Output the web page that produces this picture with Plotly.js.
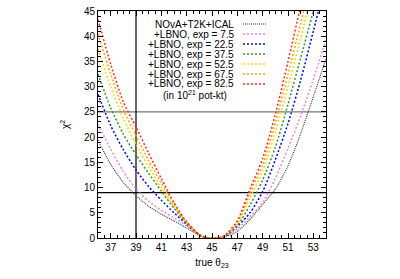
<!DOCTYPE html>
<html>
<head>
<meta charset="utf-8">
<script src="https://cdn.plot.ly/plotly-3.0.1.min.js"></script>
<style>html,body{margin:0;padding:0;background:#fff;}#chart{width:400px;height:279px;}</style>
</head>
<body>
<div id="chart"></div>
<script>
// true theta23 (degrees)
const theta = [36,37,38,39,40,41,42,43,44,44.5,45,45.5,46,47,48,49,50,51,52,53,54];
// chi^2 curves
const chiBase   = [19.4,14.6,11.0,8.4,6.3,4.7,3.4,2.0,0.5,0.1,0,0.03,0.2,1.3,3.7,6.7,9.7,14.3,20.7,28,35.5];
const chiExp7   = [22.5,17.6,13.2,9.7,7.3,5.5,4.0,2.4,0.55,0.1,0,0.03,0.25,1.8,4.2,7.0,11.8,17.8,24.2,31.5,39.3];
const chiExp22  = [28.5,22.3,17.5,13.5,10.2,7.5,5.0,2.7,0.6,0.1,0,0.03,0.3,2.3,5.0,9.2,15.5,22.7,31.3,41,51];
const chiExp37  = [32.5,25.8,20.6,16.5,12.8,9.3,5.9,2.9,0.65,0.1,0,0.03,0.35,2.5,6.5,11.5,18.0,26.5,35.7,45,55];
const chiExp52  = [37.5,30,23.7,18.6,14.1,10.0,6.2,3.0,0.65,0.1,0,0.03,0.4,2.8,8.0,13.3,21.0,30,39.5,50,60];
const chiExp67  = [40.5,32.5,25.5,20.3,15.3,10.9,6.6,3.1,0.7,0.1,0,0.03,0.45,3.1,9.0,14.5,22.8,32.5,42.5,53,63];
const chiExp82  = [43.3,34.5,27,22,16.8,11.8,7.0,3.2,0.7,0.1,0,0.03,0.5,3.4,9.7,15.8,24.5,35,46,57,68];

const seriesNames = ["NOvA+T2K+ICAL","+LBNO, exp = 7.5","+LBNO, exp = 22.5","+LBNO, exp = 37.5","+LBNO, exp = 52.5","+LBNO, exp = 67.5","+LBNO, exp = 82.5"];
const seriesData = [chiBase, chiExp7, chiExp22, chiExp37, chiExp52, chiExp67, chiExp82];
const unitNote = "(in 10<sup>21</sup> pot-kt)";

// reference lines
const refChi2 = [9, 25];
const refTheta = [39];

const xRange = [36, 54];
const yRange = [0, 45];
const xTickVals = [37,39,41,43,45,47,49,51,53];

// styles
const colors = ["#333333","#ee82ee","#0000ff","#2e9a2e","#ffd700","#ffa500","#ff2a2a"];
const widths = [1.1, 1.5, 1.5, 1.5, 1.5, 1.5, 1.5];
const dashes = ["1px,1px","2px,2px","2px,2px","2px,2px","2px,2px","2px,2px","2px,2px"];
const refColors = ["#000000", "#777777"];

const W = 400, H = 279;
const M = {l: 98, r: 74, t: 11, b: 41};
const pw = W - M.l - M.r, ph = H - M.t - M.b;
const px2x = p => (p - M.l) / pw;
const px2y = p => (H - M.b - p) / ph;

const traces = [];
refChi2.forEach((v, i) => {
  traces.push({x: xRange, y: [v, v], mode: 'lines', line: {color: refColors[i], width: 1.2}, hoverinfo: 'skip', showlegend: false});
});
refTheta.forEach(v => {
  traces.push({x: [v, v], y: yRange, mode: 'lines', line: {color: '#000', width: 1.2}, hoverinfo: 'skip', showlegend: false});
});
seriesData.forEach((d, i) => {
  traces.push({
    x: theta, y: d, mode: 'lines', name: seriesNames[i],
    line: {color: colors[i], width: widths[i], dash: dashes[i], shape: 'spline', smoothing: 0.7},
    showlegend: false
  });
});

const font = {family: '"Liberation Sans", Arial, sans-serif', size: 10, color: '#000'};
const annotations = [];
const shapes = [];
const rowY0 = 24, rowStep = 10;
seriesNames.forEach((n, i) => {
  const yp = rowY0 + i * rowStep;
  annotations.push({xref: 'paper', yref: 'paper', x: px2x(236), y: px2y(yp), xanchor: 'right', yanchor: 'middle', text: n, showarrow: false, font: font});
  shapes.push({type: 'line', xref: 'paper', yref: 'paper', x0: px2x(243), x1: px2x(266), y0: px2y(yp), y1: px2y(yp), line: {color: colors[i], width: widths[i], dash: dashes[i]}});
});
annotations.push({xref: 'paper', yref: 'paper', x: px2x(195), y: px2y(rowY0 + 7 * rowStep + 1), xanchor: 'center', yanchor: 'middle', text: unitNote, showarrow: false, font: font});

const axisCommon = {
  showline: true, linecolor: '#000', linewidth: 1, mirror: 'ticks',
  ticks: 'inside', ticklen: 5, tickcolor: '#000', tickwidth: 1,
  showgrid: false, zeroline: false, tickfont: font
};

const layout = {
  width: W, height: H,
  margin: M,
  paper_bgcolor: '#fff', plot_bgcolor: '#fff',
  showlegend: false,
  xaxis: Object.assign({}, axisCommon, {
    range: xRange, tickmode: 'array', tickvals: xTickVals,
    minor: {dtick: 0.5, tick0: 36, ticks: 'inside', ticklen: 3, tickcolor: '#000'},
    title: {text: 'true θ<sub>23</sub>', font: font, standoff: 6}
  }),
  yaxis: Object.assign({}, axisCommon, {
    range: yRange, dtick: 5, tick0: 0,
    minor: {dtick: 1, ticks: 'inside', ticklen: 3, tickcolor: '#000'},
    title: {text: 'χ<sup>2</sup>', font: font, standoff: 12}
  }),
  annotations: annotations,
  shapes: shapes
};

Plotly.newPlot('chart', traces, layout, {staticPlot: true, displayModeBar: false});
</script>
</body>
</html>
